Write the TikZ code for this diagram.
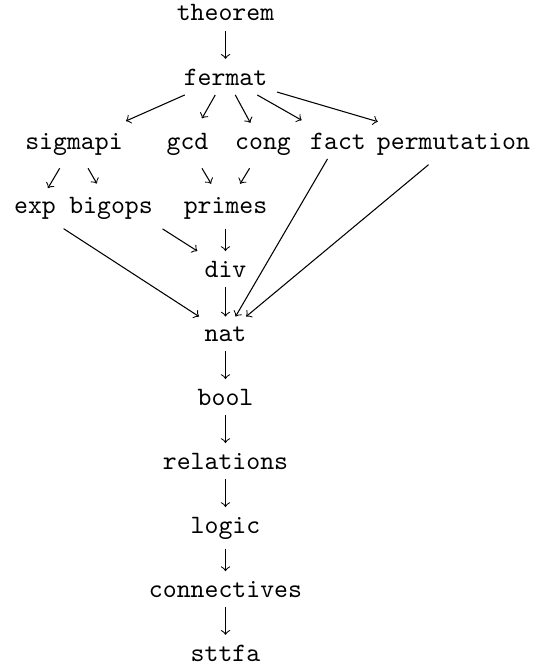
\documentclass[tikz,border=0pt]{standalone}
\begin{document}
\begin{tikzpicture}[x=0.37736pt,y=-0.37736pt,
  mod/.style={anchor=base,inner sep=3.5pt,font=\ttfamily},
  dep/.style={->,line width=0.4pt},
  fan/.style={shorten >=2pt},
  short/.style={shorten <=1.5pt,shorten >=1.5pt}]
\useasboundingbox (0,0) rectangle (537,665);
\node[mod] (theorem) at (225.5,21) {theorem};
\node[mod] (fermat) at (225.5,85) {fermat};
\node[mod] (sigmapi) at (74,149) {sigmapi};
\node[mod] (gcd) at (187.5,149) {gcd};
\node[mod] (cong) at (263,149) {cong};
\node[mod] (fact) at (338,149) {fact};
\node[mod] (permutation) at (453.5,149) {permutation};
\node[mod] (exp) at (35,213) {exp};
\node[mod] (bigops) at (111,213) {bigops};
\node[mod] (primes) at (225.5,213) {primes};
\node[mod] (div) at (225.5,277) {div};
\node[mod] (nat) at (225.5,341) {nat};
\node[mod] (bool) at (225.5,405) {bool};
\node[mod] (relations) at (225.5,469) {relations};
\node[mod] (logic) at (225.5,533) {logic};
\node[mod] (connectives) at (225.5,597) {connectives};
\node[mod] (sttfa) at (225.5,661) {sttfa};

\draw[dep] (theorem) -- (fermat);
\draw[dep,fan] (fermat) -- (sigmapi);
\draw[dep,fan] (fermat) -- (gcd);
\draw[dep,fan] (fermat) -- (cong);
\draw[dep,fan] (fermat) -- (fact);
\draw[dep,fan] (fermat) -- (permutation);
\draw[dep,short] (sigmapi) -- (exp);
\draw[dep,short] (sigmapi) -- (bigops);
\draw[dep,short] (gcd) -- (primes);
\draw[dep,short] (cong) -- (primes);
\draw[dep] (primes) -- (div);
\draw[dep] (bigops.south east) -- (div);
\draw[dep] (exp) -- (nat);
\draw[dep] (div) -- (nat);
\draw[dep] (fact) -- (nat);
\draw[dep] (permutation) -- (nat);
\draw[dep] (nat) -- (bool);
\draw[dep] (bool) -- (relations);
\draw[dep] (relations) -- (logic);
\draw[dep] (logic) -- (connectives);
\draw[dep] (connectives) -- (sttfa);
\end{tikzpicture}
\end{document}
